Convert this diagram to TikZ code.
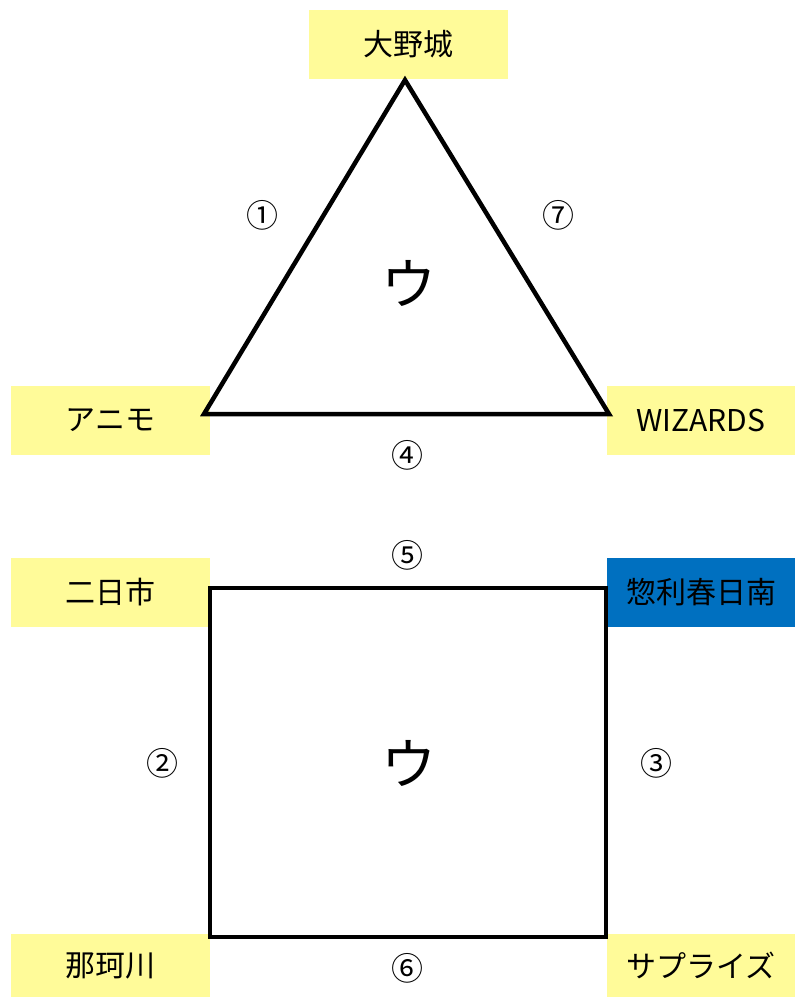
\documentclass[tikz,border=0pt]{standalone}
\usepackage{fontspec}
\setmainfont{Noto Sans CJK JP}
\usepackage{tikz}
\usetikzlibrary{positioning, calc}
\definecolor{paleyellow}{HTML}{FFFB99}
\definecolor{stationblue}{HTML}{0070C0}
\tikzset{
  stn/.style={rectangle, fill=paleyellow, draw=none, minimum width=199pt, minimum height=69pt,
    font=\fontsize{30}{34}\selectfont, align=center, inner sep=0pt},
  stn/hot/.style={stn, fill=stationblue},
  edgeno/.style={font=\fontsize{32}{36}\selectfont, inner sep=0pt},
  kana/.style={font=\fontsize{55}{60}\selectfont, inner sep=0pt},
  rim/.style={draw=black, line width=4.5pt, line join=miter},
}

\begin{document}
\begin{tikzpicture}[x=1pt, y=-1pt]
    \useasboundingbox (0,0) rectangle (795,997);

    % triangle
    \node[stn] (oonojo) at (408,44) {大野城};
    \node[stn] (animo) at (110.5,420.5) {アニモ};
    \node[stn, minimum width=188pt] (wizards) at (701,420.5) {WIZARDS};
    \coordinate (tA) at (405,80);
    \coordinate (tB) at (204,414);
    \coordinate (tC) at (609,414);
    \draw[rim] (tA) -- (tB) -- (tC) -- cycle;
    \node[edgeno] (e1) at (262,215) {①};
    \node[edgeno] (e7) at (558,215) {⑦};
    \node[edgeno] (e4) at (407,455) {④};
    \node[kana] (k1) at (409,283) {ウ};

    % square
    \node[stn] (futsuka) at (110.5,592.5) {二日市};
    \node[stn/hot, minimum width=188pt] (sori) at (701,592.5) {惣利春日南};
    \node[stn, minimum height=63pt] (nakagawa) at (110.5,965.5) {那珂川};
    \node[stn, minimum width=188pt, minimum height=63pt] (surprise) at (701,965.5) {サプライズ};
    \coordinate (sA) at (210,588);
    \coordinate (sB) at (606,588);
    \coordinate (sC) at (606,937);
    \coordinate (sD) at (210,937);
    \draw[rim] (sA) -- (sB) -- (sC) -- (sD) -- cycle;
    \node[edgeno] (e5) at (407,555) {⑤};
    \node[edgeno] (e2) at (162,763) {②};
    \node[edgeno] (e3) at (656,763) {③};
    \node[edgeno] (e6) at (407,968) {⑥};
    \node[kana] (k2) at (409,763) {ウ};
\end{tikzpicture}
\end{document}
